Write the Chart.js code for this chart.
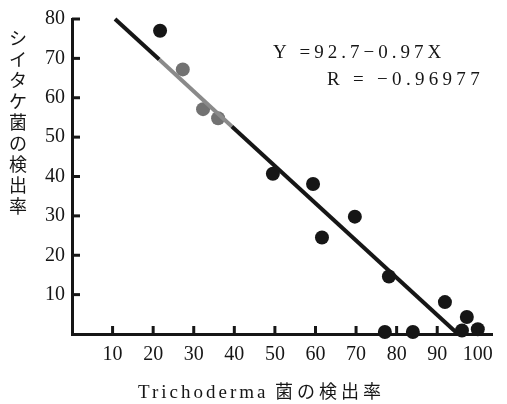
<!DOCTYPE html>
<html lang="ja">
<head>
<meta charset="UTF-8" />
<title>Trichoderma vs シイタケ菌</title>
<style>
  body{margin:0;background:#fff}
  #wrap{position:relative;width:507px;height:404px}
</style>
<script src="https://cdn.jsdelivr.net/npm/chart.js"></script>
</head>
<body>
<div id="wrap"><canvas id="c"></canvas></div>
<script>
// values
const xTicks=[10,20,30,40,50,60,70,80,90,100];
const yTicks=[10,20,30,40,50,60,70,80];
const blackX=[21.7,49.5,59.4,61.6,69.7,78.1,91.9,97.3,77.1,84.0,96.1,100.0];
const blackY=[77.0,40.7,38.1,24.5,29.8,14.6,8.1,4.3,0.5,0.5,0.9,1.2];
const grayX=[27.3,32.3,36.0];
const grayY=[67.2,57.1,54.8];
const fitX=[10.6,21.5,39.4,95.1];
const fitY=[80,69.7,52.7,0];
const eqLines=['Y =92.7\u22120.97X','R = \u22120.96977'];
const yTitle='シイタケ菌の検出率';
const xTitleLatin='Trichoderma';
const xTitleJa='菌の検出率';

const ink='#161616';
const serif='"Liberation Serif","DejaVu Serif",serif';
const jp='"Noto Sans CJK JP","Noto Sans",sans-serif';

const pts=(xs,ys)=>xs.map((x,i)=>({x:x,y:ys[i]}));

const decor={
  id:'decor',
  afterDraw(chart){
    const {ctx,chartArea:a,scales:{x,y}}=chart;
    ctx.save();
    // inward tick marks
    ctx.strokeStyle=ink;ctx.lineWidth=3;
    xTicks.forEach(v=>{const p=x.getPixelForValue(v);ctx.beginPath();ctx.moveTo(p,a.bottom);ctx.lineTo(p,a.bottom-8);ctx.stroke();});
    yTicks.forEach(v=>{const p=y.getPixelForValue(v);ctx.beginPath();ctx.moveTo(a.left,p);ctx.lineTo(a.left+8,p);ctx.stroke();});
    ctx.fillStyle=ink;
    // regression text
    ctx.font='19px '+serif;ctx.textBaseline='alphabetic';ctx.textAlign='left';
    ctx.letterSpacing='4px';
    ctx.fillText(eqLines[0],273,58);
    ctx.letterSpacing='4.3px';
    ctx.fillText(eqLines[1],327,85);
    // vertical y title
    ctx.letterSpacing='0px';
    ctx.font='18px '+jp;ctx.textAlign='center';ctx.textBaseline='middle';
    [...yTitle].forEach((ch,i)=>ctx.fillText(ch,18,38+i*21));
    // x title
    ctx.textAlign='left';ctx.textBaseline='alphabetic';
    ctx.font='19px '+serif;ctx.letterSpacing='3px';
    ctx.fillText(xTitleLatin,138,398);
    ctx.letterSpacing='4px';
    ctx.font='18px '+jp;
    ctx.fillText(xTitleJa,275,398);
    ctx.restore();
  }
};

new Chart(document.getElementById('c'),{
  type:'scatter',
  data:{datasets:[
    {label:'fit',type:'line',data:pts(fitX,fitY),borderColor:ink,borderWidth:4,pointRadius:0,clip:false,
     segment:{borderColor:c=>c.p0DataIndex===1?'#8a8a8a':ink}},
    {label:'gray',data:pts(grayX,grayY),backgroundColor:'#727272',borderWidth:0,pointRadius:7,clip:false},
    {label:'black',data:pts(blackX,blackY),backgroundColor:ink,borderWidth:0,pointRadius:7,clip:false}
  ]},
  options:{
    responsive:true,maintainAspectRatio:false,animation:false,
    layout:{padding:{left:0,right:15,top:17,bottom:0}},
    plugins:{legend:{display:false},tooltip:{enabled:false}},
    scales:{
      x:{min:0,max:103.5,
        afterBuildTicks:s=>{s.ticks=xTicks.map(v=>({value:v}));},
        afterFit:s=>{s.height=70;},
        grid:{display:false,drawTicks:false},
        border:{display:true,color:ink,width:3},
        ticks:{padding:9,color:ink,font:{family:serif,size:20},maxRotation:0}},
      y:{min:0,max:80,
        afterBuildTicks:s=>{s.ticks=yTicks.map(v=>({value:v}));},
        afterFit:s=>{s.width=72;},
        grid:{display:false,drawTicks:false},
        border:{display:true,color:ink,width:3},
        ticks:{padding:7,color:ink,font:{family:serif,size:20}}}
    }
  },
  plugins:[decor]
});
</script>
</body>
</html>
